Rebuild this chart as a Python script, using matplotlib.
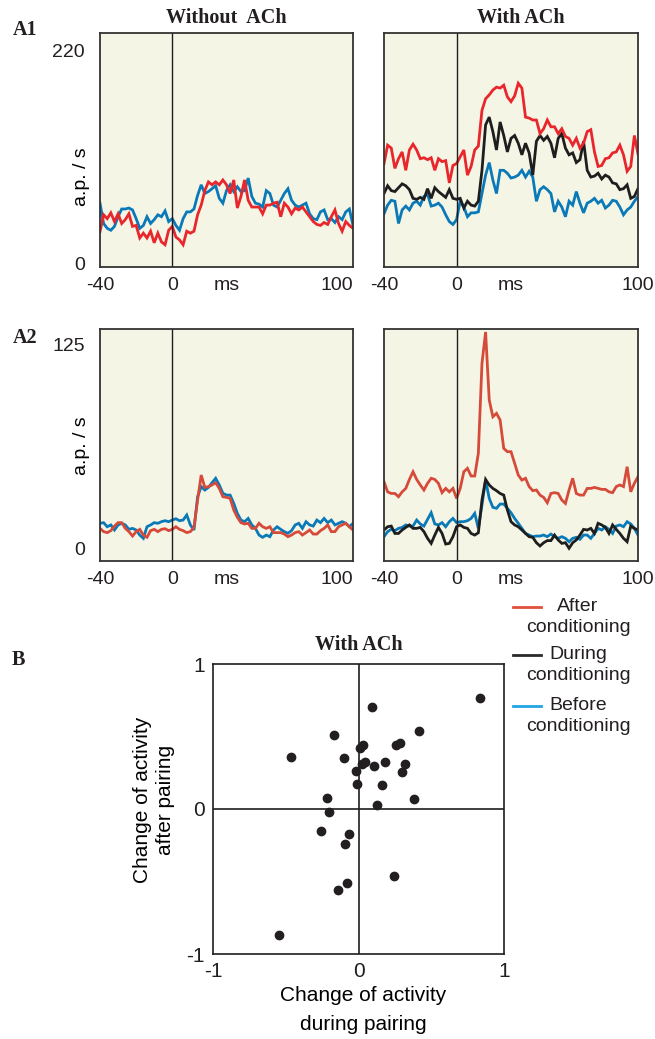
import matplotlib
matplotlib.use('Agg')
import matplotlib.pyplot as plt
from matplotlib.lines import Line2D
import numpy as np

plt.rcParams['font.family'] = ['Liberation Sans', 'DejaVu Sans']
plt.rcParams['text.color'] = '#231f20'
plt.rcParams['xtick.color'] = '#231f20'
plt.rcParams['ytick.color'] = '#231f20'

W, H = 655, 1039

# sample times (ms), one every 2 ms
t = np.arange(-40, 101, 2)

# A1, without ACh (a.p./s)
a1_wo_after = [32.5, 50, 46, 52, 43, 51, 41, 45, 51, 38,
               39, 26, 31, 26, 33, 21, 31, 22, 19, 34,
               38, 27, 24, 19, 33, 31, 33, 50, 60, 75,
               84, 81, 84, 81, 86, 81, 72, 86, 57, 69,
               86, 65, 58, 58, 58, 51, 60, 60, 62, 63,
               48, 62, 58, 51, 57, 55, 58, 53, 48, 43,
               40, 39, 42, 40, 48, 55, 41, 33, 43, 39, 36]
a1_wo_before = [62, 41, 36, 34, 38, 48, 56, 56, 57, 55,
                46, 36, 39, 48, 41, 45, 50, 48, 54, 43,
                46, 39, 34, 46, 53, 53, 56, 70, 81, 72,
                74, 77, 80, 67, 62, 75, 81, 74, 79, 74,
                75, 88, 69, 62, 61, 58, 75, 72, 60, 58,
                65, 72, 77, 65, 60, 58, 60, 62, 51, 46,
                45, 53, 55, 45, 46, 42, 48, 45, 53, 56, 39]

# A1, with ACh
a1_w_after = [103, 122, 119, 98, 108, 115, 96, 117, 123, 117,
              108, 109, 107, 109, 96, 108, 105, 106, 83, 101,
              103, 110, 117, 91, 100, 117, 121, 158, 170, 174,
              179, 182, 181, 184, 172, 167, 173, 186, 181, 151,
              150, 148, 148, 134, 139, 148, 141, 141, 134, 139,
              131, 129, 122, 129, 119, 124, 136, 138, 115, 100,
              101, 108, 109, 114, 115, 122, 112, 95, 100, 132, 113]
a1_w_during = [72, 80, 75, 74, 78, 82, 80, 76, 67, 66,
               68, 66, 77, 67, 78, 74, 71, 68, 76, 67,
               66, 67, 57, 64, 60, 59, 64, 96, 143, 151,
               136, 117, 146, 132, 115, 129, 132, 124, 112, 124,
               114, 91, 126, 132, 127, 131, 124, 109, 129, 134,
               119, 112, 114, 104, 107, 126, 96, 89, 90, 93,
               87, 91, 89, 83, 82, 76, 77, 81, 67, 69, 77]
a1_w_before = [51, 60, 65, 64, 41, 55, 59, 55, 62, 64,
               60, 69, 71, 59, 60, 62, 58, 50, 43, 40,
               45, 64, 58, 48, 52, 52, 53, 72, 91, 104,
               86, 72, 96, 96, 93, 88, 89, 91, 96, 89,
               95, 89, 64, 76, 79, 76, 72, 53, 64, 58,
               48, 64, 60, 74, 62, 52, 62, 64, 67, 62,
               65, 57, 60, 65, 64, 58, 50, 55, 58, 64, 69]

# A2, without ACh
a2_wo_after = [12.6, 10.6, 10, 11.2, 14, 16.1, 16.1, 12.6, 10.6, 7.9,
               10.6, 12, 8.5, 7.1, 11.2, 12, 10.6, 12, 12.4, 11.2,
               12, 13.6, 12, 11.2, 10, 10.6, 13.2, 30, 45.3, 37.7,
               38.2, 39.2, 40.6, 37.1, 32, 31.6, 31, 23.9, 19.4, 16.1,
               15.3, 15.7, 12.6, 12.6, 15.7, 13.6, 12.6, 13.6, 10, 10,
               10, 9.1, 7.5, 8.5, 10, 10.6, 8.5, 10, 11.6, 9.1,
               9.1, 11.2, 12.6, 14.7, 10.6, 10.6, 13.6, 14.7, 15.7, 13.6, 11.6]
a2_wo_before = [15.7, 16.1, 13.6, 14.7, 11.6, 14.7, 15.7, 14.7, 12, 12.6,
                11.6, 8.5, 6.5, 13.6, 14.7, 16.1, 15.7, 16.7, 17.3, 16.7,
                17.7, 18.5, 17.3, 17.7, 20.8, 14.7, 11.6, 32, 38.2, 36.1,
                37.7, 40.6, 43.3, 39.2, 34.1, 33, 33, 28, 21.8, 17.7,
                16.7, 18.7, 14.7, 12.6, 8.5, 7.1, 8.5, 7.5, 11.6, 13.6,
                12, 10.6, 9.6, 11.2, 14.7, 15.7, 12.6, 16.7, 14.7, 14,
                17.7, 16.1, 18.7, 16.1, 17.7, 14.7, 15.7, 16.7, 15.7, 13.6, 15.7]

# A2, with ACh
a2_w_after = [41.2, 35, 34, 34, 32, 35, 37.1, 42.6, 47.3, 42.6,
              39.2, 36.1, 40.2, 43.3, 42.6, 40.2, 34.5, 37.1, 35, 37.1,
              31, 37.1, 47.3, 49.4, 44.7, 44.7, 58.6, 113.7, 133, 91.3,
              81, 83.1, 79, 61.6, 59.6, 59.6, 52.5, 45.3, 42.2, 43.3,
              38.2, 35.7, 36.1, 33, 31.6, 28.3, 34, 34.5, 34, 30,
              27.9, 36.1, 43.3, 34, 33, 33, 37.1, 37.1, 37.7, 37.1,
              36.5, 36.5, 35, 34.5, 38.2, 39.2, 38.2, 50.4, 35, 40.2, 44.3]
a2_w_during = [11.6, 13.6, 14, 9.5, 9.5, 11.6, 13.2, 14.7, 12.6, 12.6,
               13.2, 10.6, 6.5, 3.4, 8.5, 13.2, 9.5, 3, 3.4, 7.5,
               13.6, 14.7, 13.2, 12.6, 9.5, 8.5, 9.9, 30, 42.6, 39.2,
               37.1, 35.7, 34, 33, 23.9, 16.7, 14.7, 13.6, 11.6, 9.5,
               7.5, 7.1, 3.8, 1.8, 3.8, 5.1, 5.1, 8.5, 5.5, 3.4,
               3.8, 0.4, 3.8, 5.5, 8.5, 12, 11.6, 12.6, 9.5, 15.7,
               14.7, 13.2, 9.5, 14.7, 12, 9.5, 6.5, 4.4, 14, 12.6, 11.6]
a2_w_before = [7.5, 10.6, 12, 11.2, 12.6, 13.2, 14.7, 14, 14, 17.7,
               15.3, 14, 18.1, 22.2, 15.3, 14.7, 16.1, 13.6, 16.7, 18.7,
               16.1, 16.7, 16.7, 17.3, 18.7, 21.8, 12.6, 26.9, 42.2, 31,
               25.5, 24.9, 27.5, 27.5, 24.9, 22.2, 18.7, 15.7, 12.6, 9.5,
               8.5, 7.5, 7.9, 7.9, 8.5, 7.5, 9.1, 7.5, 6.5, 7.5,
               6.5, 4.4, 6.5, 7.1, 5.9, 8.5, 8.5, 6.5, 9.5, 12.6,
               11.6, 13.6, 12, 9.5, 14, 14.7, 13.6, 16.7, 15.3, 12.6, 8.5]

# B: change of activity during pairing (x) vs after pairing (y)
b_during = [0.834, 0.094, 0.419, -0.166, -0.465, -0.099, 0.030, 0.012, 0.260, 0.288,
            0.044, 0.021, 0.104, 0.180, 0.318, 0.300, -0.016, -0.007, 0.159, -0.219,
            0.382, 0.124, -0.200, -0.256, -0.062, -0.090, 0.247, -0.081, -0.143, -0.544]
b_after = [0.767, 0.705, 0.537, 0.509, 0.359, 0.350, 0.438, 0.422, 0.438, 0.456,
           0.325, 0.313, 0.297, 0.325, 0.313, 0.253, 0.263, 0.173, 0.166, 0.076,
           0.067, 0.030, -0.023, -0.154, -0.173, -0.244, -0.459, -0.512, -0.562, -0.866]

xticks_a = [-40, 0, 30, 100]
xticklabels_a = ['-40', '0', 'ms', '100']

RED1 = '#e8262c'
RED2 = '#d64a3a'
BLUE = '#0a79b8'
BLACK = '#1e1e1e'
BG = '#f5f5e6'
SERIF = 'Liberation Serif'


def box(l, t_, r, b):
    # pixel box -> figure fraction rect
    return [l / W, 1 - b / H, (r - l) / W, (b - t_) / H]


def trace_panel(ax, ylim, series, left):
    ax.set_facecolor(BG)
    for s, c in series:
        ax.plot(t, s, color=c, lw=2.0, solid_joinstyle='miter')
    ax.axvline(0, color='#1e1e1e', lw=1.0)
    ax.set_xlim(-40, 100)
    ax.set_ylim(*ylim)
    ax.set_xticks(xticks_a)
    ax.set_xticklabels(xticklabels_a)
    ax.tick_params(length=0, labelsize=14, pad=7)
    if left:
        ax.get_xticklabels()[-1].set_ha('right')
    for sp in ax.spines.values():
        sp.set_color('#333333')
        sp.set_linewidth(1.3)


fig = plt.figure(figsize=(W / 100, H / 100), dpi=100)

# A1
ax1 = fig.add_axes(box(100, 33, 353, 267))
trace_panel(ax1, (-4, 238), [(a1_wo_before, BLUE), (a1_wo_after, RED1)], True)
ax1.set_yticks([0, 220])
ax1.set_yticklabels(['0', '220'])
ax1.tick_params(axis='y', pad=11)
ax1.set_ylabel('a.p. / s', fontsize=14)
ax1.yaxis.set_label_coords(-0.04, 0.385)
ax1.set_title('Without  ACh', fontsize=14.5, fontweight='bold', family=SERIF, pad=7)

ax2 = fig.add_axes(box(384, 33, 638, 267))
trace_panel(ax2, (-4, 238), [(a1_w_before, BLUE), (a1_w_during, BLACK), (a1_w_after, RED1)], False)
ax2.set_yticks([])
ax2.set_title('With ACh', fontsize=14.5, fontweight='bold', family=SERIF, pad=7, x=0.54)

# A2
ax3 = fig.add_axes(box(100, 329, 353, 561))
trace_panel(ax3, (-7.4, 134.8), [(a2_wo_before, BLUE), (a2_wo_after, RED2)], True)
ax3.set_yticks([0, 125])
ax3.set_yticklabels(['0', '125'])
ax3.tick_params(axis='y', pad=11)
ax3.set_ylabel('a.p. / s', fontsize=14)
ax3.yaxis.set_label_coords(-0.04, 0.496)

ax4 = fig.add_axes(box(384, 329, 638, 561))
trace_panel(ax4, (-7.4, 134.8), [(a2_w_before, BLUE), (a2_w_during, BLACK), (a2_w_after, RED2)], False)
ax4.set_yticks([])

# B scatter
ax5 = fig.add_axes(box(213, 664, 504, 954))
ax5.axhline(0, color='#1e1e1e', lw=1.2)
ax5.axvline(0, color='#1e1e1e', lw=1.2)
ax5.scatter(b_during, b_after, s=36, color='#231f20', zorder=3)
ax5.set_xlim(-1, 1)
ax5.set_ylim(-1, 1)
ax5.set_xticks([-1, 0, 1])
ax5.set_xticklabels(['-1', '0', '1'])
ax5.set_yticks([-1, 0, 1])
ax5.set_yticklabels(['-1', '0', '1'])
ax5.tick_params(length=0, labelsize=15, pad=6)
for sp in ax5.spines.values():
    sp.set_color('#1e1e1e')
    sp.set_linewidth(1.2)
ax5.set_xlabel('Change of activity\nduring pairing', fontsize=15, linespacing=1.7)
ax5.xaxis.set_label_coords(0.515, -0.11)
ax5.set_ylabel('Change of activity\nafter pairing', fontsize=15, linespacing=1.3)
ax5.yaxis.set_label_coords(-0.13, 0.53)
ax5.set_title('With ACh', fontsize=14.5, fontweight='bold', family=SERIF, pad=10)

# panel letters
for lab, (px, py) in [('A1', (13, 30)), ('A2', (13, 338)), ('B', (12, 660))]:
    fig.text(px / W, 1 - py / H, lab, fontsize=14.5, fontweight='bold', family=SERIF,
             ha='left', va='center')

# legend
leg = [('After\nconditioning', '#e0503c', 607),
       ('During\nconditioning', '#2a2a2a', 655),
       ('Before\nconditioning', '#22a6e3', 706)]
for txt, col, py in leg:
    fig.add_artist(Line2D([513 / W, 541 / W], [1 - py / H, 1 - py / H], color=col, lw=2.0))
    fig.text(578 / W, 1 - (py - 9) / H, txt, fontsize=14, ha='center', va='top',
             multialignment='center', linespacing=1.33)

fig.savefig('out.png', dpi=100)
